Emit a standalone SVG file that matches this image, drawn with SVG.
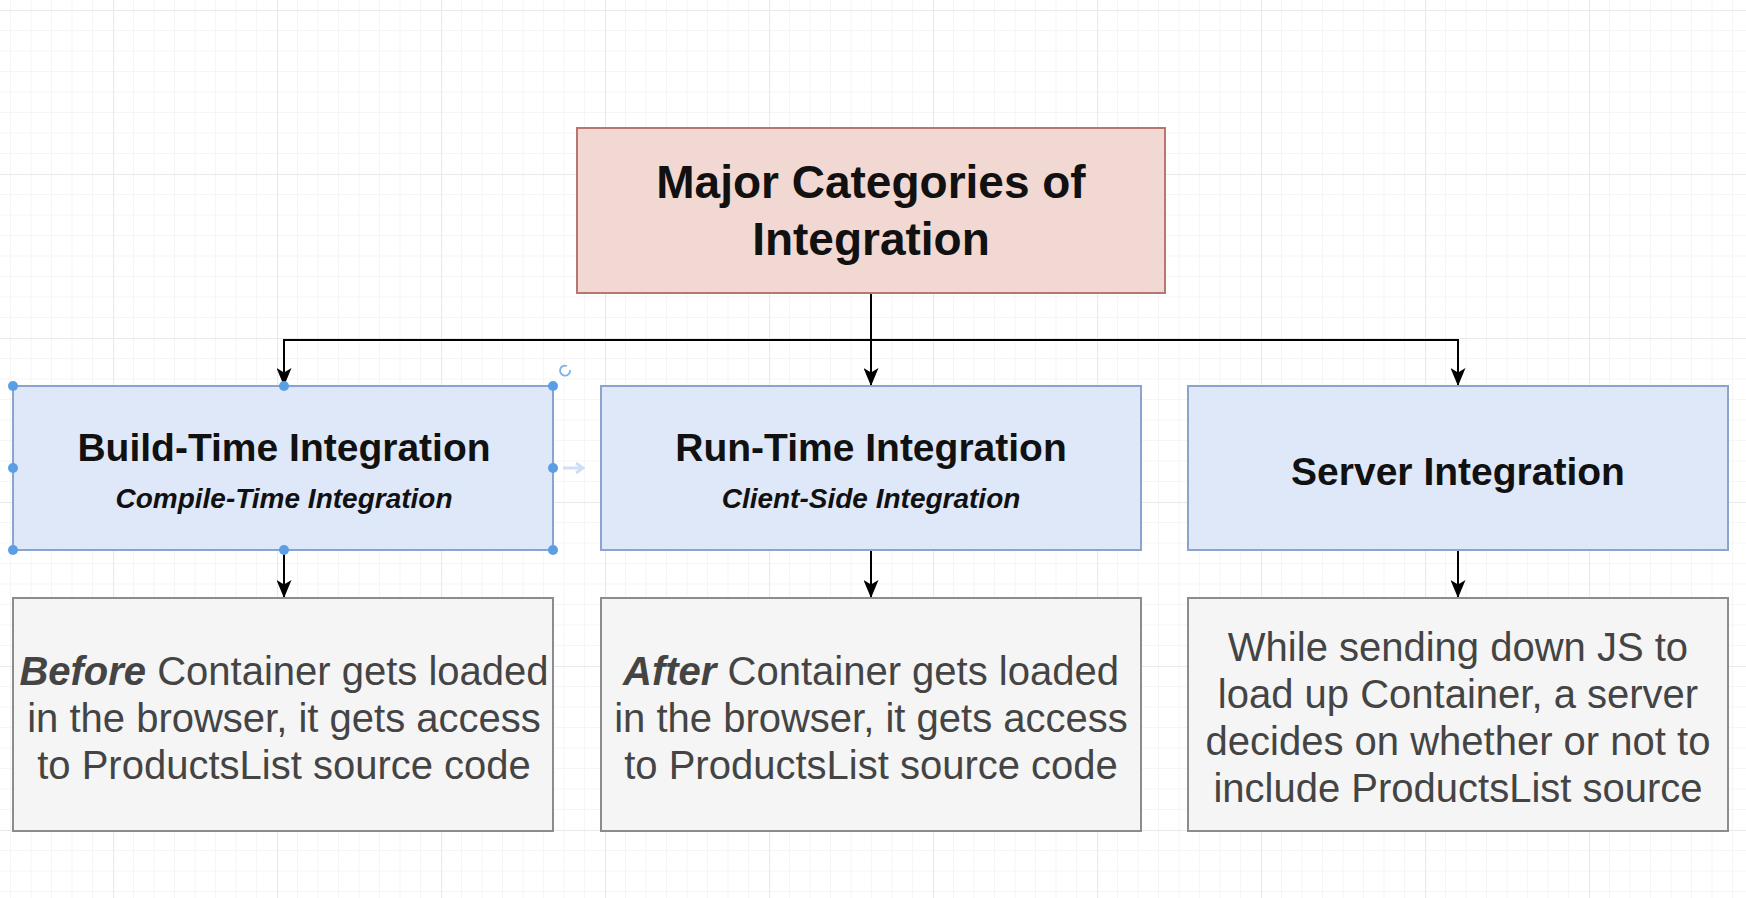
<svg xmlns="http://www.w3.org/2000/svg" width="1746" height="898" viewBox="0 0 1746 898">
<style>
.t{font-family:"Liberation Sans",Arial,sans-serif;text-anchor:middle}
.h1{font-size:46px;font-weight:bold;fill:#111}
.h2{font-size:39px;font-weight:bold;fill:#111}
.sub{font-size:28px;font-weight:bold;font-style:italic;fill:#111}
.body{font-size:40px;fill:#444}
.bi{font-weight:bold;font-style:italic}
.top{fill:#f1d8d2;stroke:#b7776e;stroke-width:2}
.blue{fill:#dfe8f8;stroke:#8da2cc;stroke-width:2}
.gray{fill:#f5f5f5;stroke:#8c8c8c;stroke-width:2}
.edge{fill:none;stroke:#000;stroke-width:2}
.h{fill:#5a9ee6}
</style>
<defs>
<pattern id="grid" patternUnits="userSpaceOnUse" x="113" y="10" width="164" height="164">
<path d="M20.5,0V164M41,0V164M61.5,0V164M82,0V164M102.5,0V164M123,0V164M143.5,0V164M0,20.5H164M0,41H164M0,61.5H164M0,82H164M0,102.5H164M0,123H164M0,143.5H164" stroke="#f5f5f5" stroke-width="1" fill="none"/>
<path d="M0.5,0V164M0,0.5H164" stroke="#e9e9e9" stroke-width="1.2" fill="none"/>
</pattern>
<marker id="arr" viewBox="0 0 18 15" refX="18" refY="7.5" markerWidth="18" markerHeight="15" markerUnits="userSpaceOnUse" orient="auto">
<path d="M0,0 L18,7.5 L0,15 L4.5,7.5 Z" fill="#000"/>
</marker>
</defs>
<rect width="1746" height="898" fill="#fff"/>
<rect width="1746" height="898" fill="url(#grid)"/>

<g id="connectors">
<path class="edge" d="M871,293 V386" marker-end="url(#arr)"/>
<path class="edge" d="M871,340 H284 V386" marker-end="url(#arr)"/>
<path class="edge" d="M871,340 H1458 V386" marker-end="url(#arr)"/>
<path class="edge" d="M284,550 V598" marker-end="url(#arr)"/>
<path class="edge" d="M871,550 V598" marker-end="url(#arr)"/>
<path class="edge" d="M1458,550 V598" marker-end="url(#arr)"/>
</g>

<g id="major">
<rect class="top" x="577" y="128" width="588" height="165"/>
<text class="t h1" x="871" y="198">Major Categories of</text>
<text class="t h1" x="871" y="255">Integration</text>
</g>

<g id="build-time">
<rect class="blue" x="13" y="386" width="540" height="164"/>
<text class="t h2" x="284" y="461">Build-Time Integration</text>
<text class="t sub" x="284" y="508">Compile-Time Integration</text>
</g>

<g id="run-time">
<rect class="blue" x="601" y="386" width="540" height="164"/>
<text class="t h2" x="871" y="461">Run-Time Integration</text>
<text class="t sub" x="871" y="508">Client-Side Integration</text>
</g>

<g id="server">
<rect class="blue" x="1188" y="386" width="540" height="164"/>
<text class="t h2" x="1458" y="485">Server Integration</text>
</g>

<g id="before">
<rect class="gray" x="13" y="598" width="540" height="233"/>
<text class="t body" x="284" y="685"><tspan class="bi">Before</tspan> Container gets loaded</text>
<text class="t body" x="284" y="732">in the browser, it gets access</text>
<text class="t body" x="284" y="779">to ProductsList source code</text>
</g>

<g id="after">
<rect class="gray" x="601" y="598" width="540" height="233"/>
<text class="t body" x="871" y="685"><tspan class="bi">After</tspan> Container gets loaded</text>
<text class="t body" x="871" y="732">in the browser, it gets access</text>
<text class="t body" x="871" y="779">to ProductsList source code</text>
</g>

<g id="while">
<rect class="gray" x="1188" y="598" width="540" height="233"/>
<text class="t body" x="1458" y="661">While sending down JS to</text>
<text class="t body" x="1458" y="708">load up Container, a server</text>
<text class="t body" x="1458" y="755">decides on whether or not to</text>
<text class="t body" x="1458" y="802">include ProductsList source</text>
</g>

<g id="selection">
<rect x="13" y="386" width="540" height="164" fill="none" stroke="#7fa7d8" stroke-width="1" stroke-dasharray="4,3"/>
<circle class="h" cx="13" cy="386" r="5"/><circle class="h" cx="284" cy="386" r="5"/><circle class="h" cx="553" cy="386" r="5"/>
<circle class="h" cx="13" cy="468" r="5"/><circle class="h" cx="553" cy="468" r="5"/>
<circle class="h" cx="13" cy="550" r="5"/><circle class="h" cx="284" cy="550" r="5"/><circle class="h" cx="553" cy="550" r="5"/>
<path d="M563,468 H583 M576,463 L583,468 L576,473" fill="none" stroke="#cfe0f5" stroke-width="3"/>
<path d="M570,370 a5,5 0 1 1 -3,-4" fill="none" stroke="#7fb0e6" stroke-width="1.8"/>
</g>
</svg>
